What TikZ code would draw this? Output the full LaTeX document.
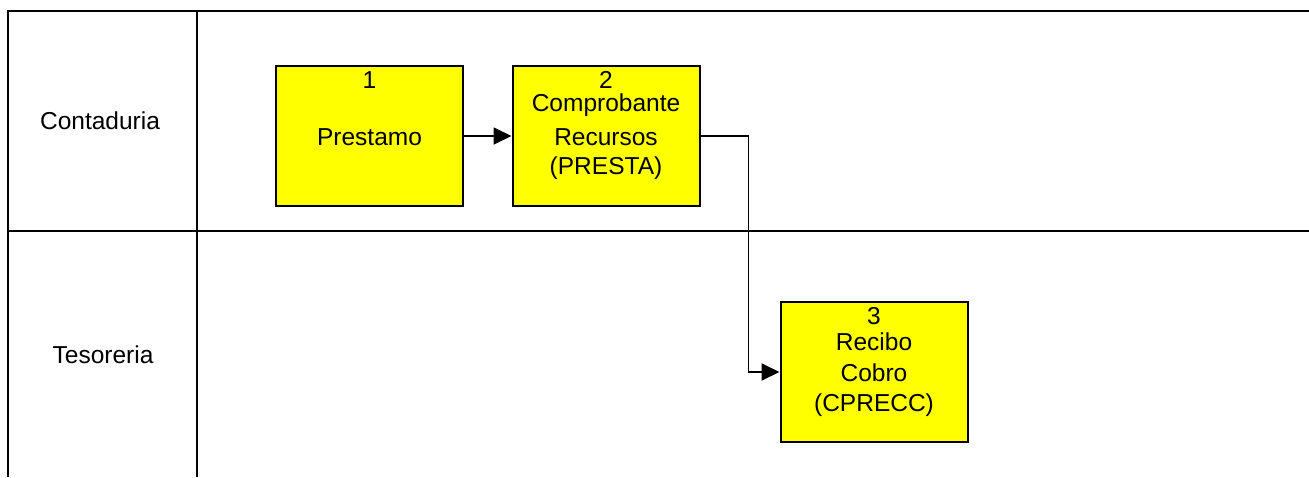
\documentclass[tikz,border=0pt]{standalone}
\usepackage{fontspec}
\setmainfont{Liberation Sans}
\usetikzlibrary{arrows.meta}
\definecolor{boxyellow}{RGB}{255,255,0}
\begin{document}
\begin{tikzpicture}[x=1pt,y=-1pt,
  lane/.style={line width=2pt,draw=black},
  procbox/.style={draw=black,fill=boxyellow,line width=2pt,minimum width=187pt,minimum height=140pt,inner sep=0pt},
  txt/.style={font=\fontsize{24.5}{28}\selectfont,inner sep=0pt,anchor=center},
  conn/.style={line width=1.8pt,-{Triangle[length=18pt,width=17pt]}}]
\useasboundingbox (0,0) rectangle (1309,477);
\draw[lane] (8,477) -- (8,11) -- (1309,11);
\draw[lane] (197,11) -- (197,477);
\draw[lane] (8,231) -- (1309,231);
\node[txt] (l1) at (100,121) {Contaduria};
\node[txt] (l2) at (103,355) {Tesoreria};
\node[procbox] (b1) at (369.5,136) {};
\node[procbox] (b2) at (606,136) {};
\node[procbox] (b3) at (874,372) {};
\node[txt] (n1) at (369.5,80) {1};
\node[txt] (t1) at (369.5,137) {Prestamo};
\node[txt] (n2) at (606,80) {2};
\node[txt] (t2a) at (606,105) {Comprobante};
\node[txt] (t2b) at (606,137) {Recursos};
\node[txt] (t2c) at (606,168) {(PRESTA)};
\node[txt] (n3) at (874,316) {3};
\node[txt] (t3a) at (874,342) {Recibo};
\node[txt] (t3b) at (874,373) {Cobro};
\node[txt] (t3c) at (874,405) {(CPRECC)};
\draw[conn] (b1.east) -- (b2.west);
\draw[conn] (b2.east) -- ++(48,0) coordinate (bend) |- (b3.west);
\end{tikzpicture}
\end{document}
